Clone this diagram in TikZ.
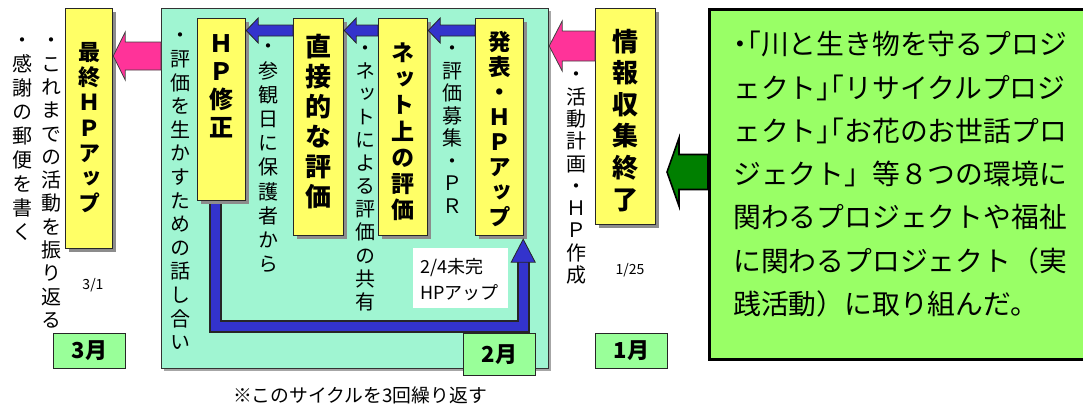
\documentclass[tikz,border=0pt]{standalone}
\usepackage{fontspec}
\usetikzlibrary{calc,shadows}
\newfontfamily\jp{Noto Sans CJK JP}
\newfontfamily\vjp{Noto Sans CJK JP}[RawFeature=+vert]
\definecolor{yfill}{HTML}{FFFF66}
\definecolor{mint}{HTML}{A0F5D2}
\definecolor{mgreen}{HTML}{99FF99}
\definecolor{rgreen}{HTML}{99FF66}
\definecolor{pinkf}{HTML}{FF3399}
\definecolor{bluef}{HTML}{3333CC}
\definecolor{greenf}{HTML}{007F00}
\ExplSyntaxOn
\NewDocumentCommand\vstack{m}{\vbox{\tl_map_inline:nn{#1}{\hbox_to_wd:nn{1em}{\hss##1\hss\vrule~height~.88em~depth~.12em~width~0pt}}}}
\ExplSyntaxOff
\newcommand\blockarrowL[6]{%
  \draw[#1] (#2) -- ($(#2)+(#6,-#5)$) -- ($(#2)+(#6,-#4)$) -- ($(#3)+(0,-#4)$)
    -- ($(#3)+(0,#4)$) -- ($(#2)+(#6,#4)$) -- ($(#2)+(#6,#5)$) -- cycle;}
\tikzset{
  ybox/.style={draw=black!85, line width=1.2pt, fill=yfill, anchor=north west, inner sep=0,
    drop shadow={shadow xshift=3.5pt, shadow yshift=-3.5pt, fill=black!45, opacity=1}},
  cbox/.style={draw=black!80, line width=1.2pt, fill=mint, anchor=north west, inner sep=0},
  mbox/.style={draw=black!85, line width=1.2pt, fill=mgreen, anchor=north west, inner sep=0,
    font=\jp\bfseries\fontsize{22}{24}\selectfont},
  rbox/.style={draw=black, line width=3pt, fill=rgreen, anchor=north west, inner sep=0},
  ttl/.style={anchor=north, inner sep=0},
  vtxt/.style={anchor=north, inner sep=0},
  small/.style={inner sep=0, font=\jp\fontsize{14}{16}\selectfont},
  pinkarrow/.style={fill=pinkf, draw=black!75, line width=0.8pt},
  bluearrow/.style={fill=bluef, draw=black!85, line width=0.8pt},
  greenarrow/.style={fill=greenf, draw=black, line width=1.6pt},
  loopdark/.style={draw=black!85, line width=13pt},
  loopblue/.style={draw=bluef, line width=9pt},
}
\begin{document}
\begin{tikzpicture}[x=1pt,y=-1pt]
\useasboundingbox (0,0) rectangle (1083,410);
% level coordinates
\coordinate (yP1) at (0,56);
\coordinate (yP2) at (0,46);
\coordinate (yB) at (0,30.5);
\coordinate (yG) at (0,172);
\coordinate (ybot) at (0,326);
% central cycle box
\node[cbox, minimum width=387, minimum height=360,
  drop shadow={shadow xshift=2pt, shadow yshift=-2pt, fill=black!35, opacity=1}] (cyc) at (161,8) {};
% right info box
\node[rbox, minimum width=382, minimum height=350] (rb) at (708,8) {};
% note box
\node[fill=white, anchor=north west, inner sep=0, minimum width=95, minimum height=60] (note) at (413,248) {};
\node[anchor=west, align=left, inner sep=0, font=\jp\fontsize{18}{26}\selectfont] (notet) at (420,280) {2/4未完\\HPアップ};
% yellow boxes
\node[ybox, minimum width=47, minimum height=240] (fin) at (65,8) {};
\node[ybox, minimum width=48, minimum height=182] (hp) at (197,18) {};
\node[ybox, minimum width=50, minimum height=217] (direct) at (293,18) {};
\node[ybox, minimum width=49, minimum height=217] (net) at (378,18) {};
\node[ybox, minimum width=48, minimum height=217] (pub) at (475,18) {};
\node[ybox, minimum width=60, minimum height=216] (info) at (595,8) {};
% loop
\coordinate (lpA) at ($(hp.south)+(-6,0)$);
\coordinate (lpD) at ($(pub.south east)+(-1,25)$);
\coordinate (lpT) at ($(pub.south east)+(-1,3)$);
\draw[loopdark] (lpA |- hp.center) -- (lpA |- ybot) -- (lpD |- ybot) -- (lpD);
\draw[loopblue] (lpA |- hp.center) -- (lpA |- ybot) -- (lpD |- ybot) -- (lpD);
\draw[bluearrow] (lpT) -- ($(lpD)+(-12,1)$) -- ($(lpD)+(12,1)$) -- cycle;
% redraw hp box over loop start
\node[ybox, minimum width=48, minimum height=182] (hp) at (197,18) {};
% titles
\node[ttl, font=\vjp\bfseries\fontsize{22}{25.2}\selectfont] (fint) at (fin.north |- 0,41) {\vstack{最終ＨＰアップ}};
\node[ttl, font=\vjp\bfseries\fontsize{24}{28}\selectfont] (hpt) at (hp.north |- 0,31) {\vstack{ＨＰ修正}};
\node[ttl, font=\vjp\bfseries\fontsize{26}{30}\selectfont] (directt) at (direct.north |- 0,33) {\vstack{直接的な評価}};
\node[ttl, font=\vjp\bfseries\fontsize{23}{26.2}\selectfont] (nett) at (net.north |- 0,41) {\vstack{ネット上の評価}};
\node[ttl, font=\vjp\bfseries\fontsize{22.5}{25.1}\selectfont] (pubt) at (pub.north |- 0,30) {\vstack{発表・ＨＰアップ}};
\node[ttl, font=\vjp\bfseries\fontsize{26}{31.6}\selectfont] (infot) at (info.north |- 0,28) {\vstack{情報収集終了}};
% vertical texts
\node[vtxt, font=\vjp\fontsize{20}{23.3}\selectfont] (t1) at (51,30) {\vstack{・これまでの活動を振り返る}};
\node[vtxt, font=\vjp\fontsize{20}{24}\selectfont] (t2) at (22.5,29.4) {\vstack{・感謝の郵便を書く}};
\node[vtxt, font=\vjp\fontsize{20}{23.6}\selectfont] (t3) at (180,25) {\vstack{・評価を生かすための話し合い}};
\node[vtxt, font=\vjp\fontsize{20}{24.2}\selectfont] (t4) at (268,36) {\vstack{・参観日に保護者から}};
\node[vtxt, font=\vjp\fontsize{20}{23.1}\selectfont] (t5) at (365,37.3) {\vstack{・ネットによる評価の共有}};
\node[vtxt, font=\vjp\fontsize{20}{22.5}\selectfont] (t6) at (452,38) {\vstack{・評価募集・ＰＲ}};
\node[vtxt, font=\vjp\fontsize{20}{22.3}\selectfont] (t7) at (576,64) {\vstack{・活動計画・ＨＰ作成}};
% dates
\node[small] (d31) at (93,285) {3/1};
\node[small] (d125) at (630,270) {1/25};
% month boxes
\node[mbox, minimum width=72, minimum height=35] (m3) at (53,333) {3月};
\node[mbox, minimum width=72, minimum height=42] (m2) at (463,333) {2月};
\node[mbox, minimum width=72, minimum height=35] (m1) at (595,333) {1月};
% pink arrows
\coordinate (pLtip) at (fin.east |- yP1);
\coordinate (pLtail) at (cyc.west |- yP1);
\blockarrowL{pinkarrow}{pLtip}{pLtail}{14}{24}{12}
\coordinate (pRtip) at (cyc.east |- yP2);
\coordinate (pRtail) at (info.west |- yP2);
\blockarrowL{pinkarrow}{pRtip}{pRtail}{15}{25}{13}
% blue arrows
\coordinate (b1tip) at (net.east |- yB);
\coordinate (b1tail) at (pub.west |- yB);
\blockarrowL{bluearrow}{b1tip}{b1tail}{5.5}{12.5}{12}
\coordinate (b2tip) at (direct.east |- yB);
\coordinate (b2tail) at (net.west |- yB);
\blockarrowL{bluearrow}{b2tip}{b2tail}{5.5}{12.5}{12}
\coordinate (b3tip) at (hp.east |- yB);
\coordinate (b3tail) at (direct.west |- yB);
\blockarrowL{bluearrow}{b3tip}{b3tail}{5.5}{12.5}{12}
% green arrow
\coordinate (gtip) at (667,172);
\coordinate (gtail) at (rb.west |- yG);
\blockarrowL{greenarrow}{gtip}{gtail}{17.5}{34}{12}
% right box text
\node[anchor=north west, align=left, inner sep=0, font=\jp\fontsize{27.8}{43.3}\selectfont] (rtext) at (733,31)
  {\makebox[0.5em]{・}\kern-0.5em「川と生き物を守るプロジ\\
   ェクト」\kern-1em「リサイクルプロジ\\
   ェクト」\kern-1em「お花のお世話プロ\\
   ジェクト」等８つの環境に\\
   関わるプロジェクトや福祉\\
   に関わるプロジェクト（実\\
   践活動）に取り組んだ。};
% bottom note
\node[inner sep=0, font=\jp\fontsize{18.8}{20}\selectfont] (cyclenote) at (360,395) {※このサイクルを3回繰り返す};
\end{tikzpicture}
\end{document}
